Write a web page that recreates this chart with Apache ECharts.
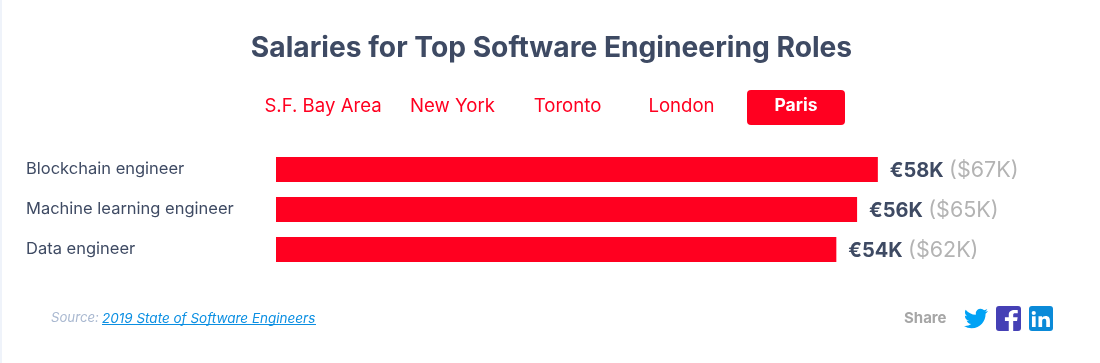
<!DOCTYPE html>
<html><head><meta charset="utf-8">
<style>html,body{margin:0;padding:0;background:#fff}#c{width:1100px;height:363px}</style>
<script src="https://cdn.jsdelivr.net/npm/echarts@6/dist/echarts.min.js"></script>
</head><body><div id="c"></div>
<script>
const titleText = 'Salaries for Top Software Engineering Roles';
const categories = ['Blockchain engineer', 'Machine learning engineer', 'Data engineer'];
const eurValues = [58, 56, 54];
const usdValues = [67, 65, 62];
const tabs = ['S.F. Bay Area', 'New York', 'Toronto', 'London', 'Paris'];
const tabCenters = [323, 452.5, 567.5, 681.5, 796];
const activeTab = 4;
const RED = '#ff0020', NAVY = '#3e4a63';
const FONT = 'Inter, "Noto Sans", sans-serif';

echarts.graphic.registerShape('iconTwitter', echarts.graphic.extendPath('M23.953 4.57 a10 10 0 0 1 -2.825 .775 a4.958 4.958 0 0 0 2.163 -2.723 c-.951.555-2.005.959-3.127 1.184 a4.92 4.92 0 0 0 -8.384 4.482 C7.69 8.095 4.067 6.13 1.64 3.162 a4.822 4.822 0 0 0 -.666 2.475 c0 1.71.87 3.213 2.188 4.096 a4.904 4.904 0 0 1 -2.228 -.616 v.06 a4.923 4.923 0 0 0 3.946 4.827 a4.996 4.996 0 0 1 -2.212 .085 a4.936 4.936 0 0 0 4.604 3.417 a9.867 9.867 0 0 1 -6.102 2.105 c-.39 0-.779-.023-1.17-.067 a13.995 13.995 0 0 0 7.557 2.209 c9.053 0 13.998-7.496 13.998-13.985 0-.21 0-.42-.015-.63 A9.935 9.935 0 0 0 24 4.59 z', {}));
echarts.graphic.registerShape('iconF', echarts.graphic.extendPath('M13.5 24v-10.5h3.2l.5-3.8h-3.7V7.3c0-1.1.3-1.8 1.8-1.8h2V2.2C16.9 2.1 15.8 2 14.6 2c-2.8 0-4.8 1.7-4.8 4.8v2.9H6.6v3.8h3.2V24z', {}));
echarts.graphic.registerShape('iconIn', echarts.graphic.extendPath('M6.9 20H3.4V9h3.5z M5.1 7.5 a2 2 0 1 1 0 -4 a2 2 0 0 1 0 4z M20.5 20H17v-5.4c0-1.3 0-3-1.8-3s-2.1 1.4-2.1 2.9V20H9.6V9H13v1.5c.5-.9 1.6-1.8 3.3-1.8 3.5 0 4.2 2.3 4.2 5.3z', {}));

const chart = echarts.init(document.getElementById('c'), null, {renderer: 'canvas'});
const g = [];
g.push({type: 'rect', shape: {x: 0, y: 0, width: 2, height: 363}, style: {fill: '#eff3fa'}, silent: true});
g.push({type: 'text', x: 551.5, y: 49, style: {text: titleText, font: 'bold 28.2px ' + FONT, fill: NAVY, align: 'center', verticalAlign: 'middle'}});
g.push({type: 'rect', shape: {x: 747, y: 90, width: 98, height: 35, r: 4}, style: {fill: RED}});
tabs.forEach((t, i) => g.push({type: 'text', x: tabCenters[i], y: 106, z: 5,
  style: {text: t, font: (i === activeTab ? 'bold 17.5px ' : '18.6px ') + FONT, fill: i === activeTab ? '#fff' : RED, align: 'center', verticalAlign: 'middle'}}));
g.push({type: 'text', x: 51, y: 318.5, style: {text: 'Source:', font: 'italic 13.2px ' + FONT, fill: '#a9b8d0', align: 'left', verticalAlign: 'middle'}});
g.push({type: 'text', x: 102, y: 318.5, style: {text: '2019 State of Software Engineers', font: 'italic 13.5px ' + FONT, fill: '#0b8fe2', align: 'left', verticalAlign: 'middle'}});
g.push({type: 'line', shape: {x1: 102, y1: 324.5, x2: 316, y2: 324.5}, style: {stroke: '#0b8fe2', lineWidth: 1}});
g.push({type: 'text', x: 904, y: 318, style: {text: 'Share', font: 'bold 15px ' + FONT, fill: '#a6a6a6', align: 'left', verticalAlign: 'middle'}});
g.push({type: 'iconTwitter', x: 964, y: 306.5, style: {fill: '#00a2f5'}});
g.push({type: 'rect', shape: {x: 996, y: 306, width: 25, height: 25, r: 3}, style: {fill: '#4540b5'}});
g.push({type: 'iconF', z: 5, x: 997, y: 308.1, scaleX: 1.2, scaleY: 0.955, style: {fill: '#fff'}});
g.push({type: 'rect', shape: {x: 1029, y: 306, width: 24, height: 25, r: 3}, style: {fill: '#0a8ad8'}});
g.push({type: 'iconIn', z: 5, x: 1028.4, y: 307.6, scaleX: 1.05, scaleY: 0.97, style: {fill: '#fff'}});

chart.setOption({
  animation: false,
  backgroundColor: '#fff',
  graphic: g,
  grid: {left: 276, top: 149.5, width: 622.6, height: 120},
  xAxis: {type: 'value', min: 0, max: 60, show: false},
  yAxis: {type: 'category', data: categories, inverse: true,
    axisLine: {show: false}, axisTick: {show: false},
    axisLabel: {align: 'left', margin: 250, color: NAVY, fontFamily: FONT, fontSize: 16.5, padding: [4, 0, 0, 0]}},
  series: [{type: 'bar', data: eurValues, barWidth: 25, itemStyle: {color: RED},
    label: {show: true, position: 'right', distance: 12, offset: [0, 1.5],
      formatter: p => '{a|€' + p.value + 'K} {b|($' + usdValues[p.dataIndex] + 'K)}',
      rich: {a: {fontFamily: FONT, fontWeight: 'bold', fontSize: 20, color: NAVY},
             b: {fontFamily: FONT, fontSize: 21.5, color: '#b3b3b3', padding: [0, 0, 0, 2]}}}}]
});
</script></body></html>
